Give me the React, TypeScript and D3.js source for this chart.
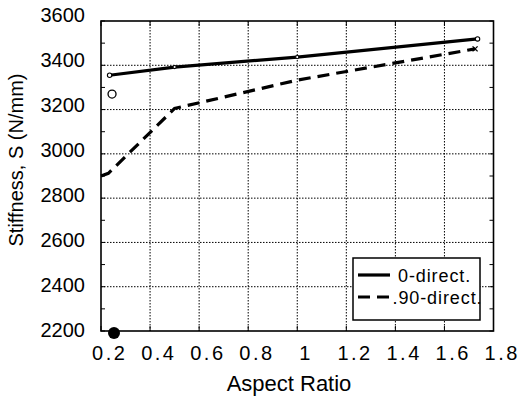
import React from "react";
import * as d3 from "d3";

// Stiffness versus aspect ratio for the two loading directions
const aspectRatio0 = [0.235, 0.5, 1.0, 1.735];
const stiffness0 = [3355, 3392, 3437, 3519];
const aspectRatio90 = [0.2, 0.23, 0.5, 1.0, 1.725];
const stiffness90 = [2900, 2912, 3205, 3333, 3474];

// Individual specimen results
const singleRatioOpen = [0.245];
const singleStiffnessOpen = [3270];
const singleRatioFilled = [0.253];
const singleStiffnessFilled = [2191];

const xTicks = [0.2, 0.4, 0.6, 0.8, 1, 1.2, 1.4, 1.6, 1.8];
const yTicks = [2200, 2400, 2600, 2800, 3000, 3200, 3400, 3600];
const yMinorTicks = d3.range(2200, 3601, 100);
const legendLabels = ["0-direct.", ".90-direct."];

const FONT = "'Liberation Sans', Arial, Helvetica, sans-serif";

export default function App() {
  const W = 518;
  const H = 398;
  const left = 101;
  const right = 493.5;
  const top = 21;
  const bottom = 331;

  const x = d3.scaleLinear().domain([0.2, 1.8]).range([left, right]);
  const y = d3.scaleLinear().domain([2200, 3600]).range([bottom, top]);
  // tick labels sit on a slightly different vertical spacing
  const yLab = d3.scaleLinear().domain([2200, 3600]).range([329.5, 15]);

  const line = d3
    .line<[number, number]>()
    .x((d) => x(d[0]))
    .y((d) => y(d[1]));

  const pts0 = aspectRatio0.map((a, i) => [a, stiffness0[i]] as [number, number]);
  const pts90 = aspectRatio90.map((a, i) => [a, stiffness90[i]] as [number, number]);

  const gridX = xTicks.slice(1, -1);
  const gridY = yTicks.slice(1, -1);

  const legX = 353;
  const legY = 258;
  const legW = 127;
  const legH = 62;

  const fmt = d3.format("~g");

  return (
    <svg
      width={W}
      height={H}
      style={{ position: "absolute", left: 0, top: 0, background: "#fff" }}
      fontFamily={FONT}
    >
      <rect width={W} height={H} fill="#fff" />

      {/* grid */}
      <g stroke="#000" strokeWidth={1} strokeDasharray="1.5,1.5">
        {gridX.map((t) => (
          <line key={"gx" + t} x1={x(t)} x2={x(t)} y1={top} y2={bottom} />
        ))}
        {gridY.map((t) => (
          <line key={"gy" + t} x1={left} x2={right} y1={y(t)} y2={y(t)} />
        ))}
      </g>

      {/* minor ticks on both vertical axes */}
      <g stroke="#000" strokeWidth={1}>
        {yMinorTicks.map((t) => (
          <g key={"ym" + t}>
            <line x1={left} x2={left + 4} y1={y(t)} y2={y(t)} />
            <line x1={right - 4} x2={right} y1={y(t)} y2={y(t)} />
          </g>
        ))}
        {xTicks.map((t) => (
          <g key={"xm" + t}>
            <line x1={x(t)} x2={x(t)} y1={bottom} y2={bottom - 5} />
            <line x1={x(t)} x2={x(t)} y1={top} y2={top + 5} />
          </g>
        ))}
      </g>

      {/* series */}
      <path d={line(pts0) || ""} fill="none" stroke="#000" strokeWidth={3.2} />
      <path
        d={line(pts90) || ""}
        fill="none"
        stroke="#000"
        strokeWidth={3.2}
        strokeDasharray="12,7"
      />
      {pts0.map((p, i) => (
        <circle
          key={"m0" + i}
          cx={x(p[0])}
          cy={y(p[1])}
          r={i === 0 || i === pts0.length - 1 ? 2.2 : 1.6}
          fill="#fff"
          stroke="#000"
          strokeWidth={1.1}
        />
      ))}
      {pts90.slice(-1).map((p, i) => (
        <g key={"m90" + i} stroke="#000" strokeWidth={1.3}>
          <line x1={x(p[0]) - 2.5} x2={x(p[0]) + 2.5} y1={y(p[1]) - 2.5} y2={y(p[1]) + 2.5} />
          <line x1={x(p[0]) - 2.5} x2={x(p[0]) + 2.5} y1={y(p[1]) + 2.5} y2={y(p[1]) - 2.5} />
        </g>
      ))}

      {/* individual results */}
      {singleRatioOpen.map((a, i) => (
        <circle key={"so" + i} cx={x(a)} cy={y(singleStiffnessOpen[i])} r={4} fill="#fff" stroke="#000" strokeWidth={1.3} />
      ))}
      {singleRatioFilled.map((a, i) => (
        <circle key={"sf" + i} cx={x(a)} cy={y(singleStiffnessFilled[i])} r={6} fill="#000" />
      ))}

      {/* frame */}
      <rect
        x={left}
        y={top}
        width={right - left}
        height={bottom - top}
        fill="none"
        stroke="#000"
        strokeWidth={1.6}
      />

      {/* legend */}
      <g>
        <rect x={legX} y={legY} width={legW} height={legH} fill="#fff" stroke="#000" strokeWidth={1.5} />
        <line x1={358} x2={390} y1={275} y2={275} stroke="#000" strokeWidth={3.2} />
        <line x1={358} x2={390} y1={297} y2={297} stroke="#000" strokeWidth={3.2} strokeDasharray="12,7" />
        <text x={398} y={281.5} fontSize={18} letterSpacing={0.9} fill="#000">
          {legendLabels[0]}
        </text>
        <text x={392.5} y={303.5} fontSize={18} letterSpacing={0.9} fill="#000">
          {legendLabels[1]}
        </text>
      </g>

      {/* x tick labels: spaced glyphs, no spacing after the last one */}
      {xTicks.map((t) => {
        const s = fmt(t);
        return (
          <text
            key={"xl" + t}
            x={x(t) + 7.5}
            y={359.5}
            fontSize={20}
            textAnchor="middle"
            fill="#000"
          >
            <tspan letterSpacing={2.5}>{s.slice(0, -1)}</tspan>
            <tspan>{s.slice(-1)}</tspan>
          </text>
        );
      })}

      {/* y tick labels */}
      {yTicks.map((t) => (
        <text
          key={"yl" + t}
          x={85}
          y={yLab(t)}
          fontSize={20}
          textAnchor="end"
          dominantBaseline="central"
          fill="#000"
        >
          {t}
        </text>
      ))}

      {/* axis titles */}
      <text x={289} y={391} fontSize={22} textAnchor="middle" fill="#000">
        Aspect Ratio
      </text>
      <text
        transform={`translate(23,160) rotate(-90)`}
        fontSize={20}
        textAnchor="middle"
        fill="#000"
      >
        Stiffness, S (N/mm)
      </text>
    </svg>
  );
}
